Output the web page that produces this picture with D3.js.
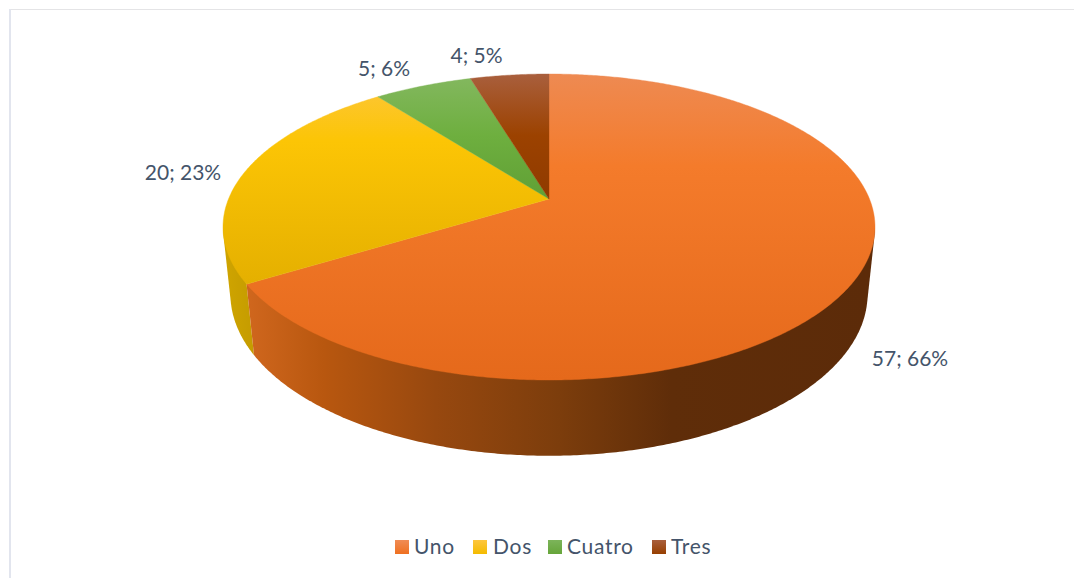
<!DOCTYPE html>
<html><head><meta charset="utf-8">
<script src="https://cdn.jsdelivr.net/npm/d3@7"></script>
<style>html,body{margin:0;padding:0;background:#fff}svg{display:block}text{font-family:Lato,sans-serif;fill:#44546a}</style>
</head><body><div id="c"></div>
<script>
const categories = ["Uno","Dos","Cuatro","Tres"];
const values = [57,20,5,4];
const percents = [66,23,6,5];
const topStops = [
 [["0","#ee8a52"],["0.3","#f47b2b"],["1","#e5691b"]],
 [["0","#fdc640"],["0.22","#fcc505"],["0.7","#e4af00"]],
 [["0","#84b860"],["0.2","#6eaf3f"],["0.41","#60a035"]],
 [["0","#a95f3d"],["0.2","#9c4200"],["0.41","#8f3a00"]]
];
const swatchStops = [
 [["0","#f08c55"],["1","#ef7020"]],
 [["0","#fdc63f"],["1","#f4bb00"]],
 [["0","#7cb45a"],["1","#66a53a"]],
 [["0","#a95f3d"],["1","#973f00"]]
];
const W=1074,H=578,cx=549,R=320.5;
const k=0.183,a=-111.46,b=199,depthW=0.0226,depthY=72.2;

const svg=d3.select("#c").append("svg").attr("width",W).attr("height",H);
const defs=svg.append("defs");
function grad(id,stops,x1,y1,x2,y2,user){
  const g=defs.append("linearGradient").attr("id",id).attr("x1",x1).attr("y1",y1).attr("x2",x2).attr("y2",y2);
  if(user) g.attr("gradientUnits","userSpaceOnUse");
  stops.forEach(s=>g.append("stop").attr("offset",s[0]).attr("stop-color",s[1]));
}
topStops.forEach((s,i)=>grad("t"+i,s,0,74,0,380,true));
swatchStops.forEach((s,i)=>grad("s"+i,s,0,0,0,1,false));
grad("wallUno",[["0","#cf661d"],["0.12","#b8570f"],["0.3","#97480f"],["0.5","#7c3d0c"],["0.68","#5f2d09"],["1","#5c2b09"]],250,0,870,0,true);
grad("wallDos",[["0","#d0a500"],["1","#c49b00"]],222,0,256,0,true);

// frame lines
svg.append("rect").attr("x",9).attr("y",9).attr("width",W-9).attr("height",1).attr("fill","#e4e4e6");
svg.append("rect").attr("x",9).attr("y",9).attr("width",2).attr("height",H-9).attr("fill","#e2e5ee");

const pie=d3.pie().sort(null).value(d=>d)(values);
// perspective projection of the pie disc; angle runs clockwise from the top
function topPt(t){const X=Math.sin(t),Y=Math.cos(t),w=1+k*Y;return [cx+R*X/w,(a*Y+b)/w];}
function botPt(t){const X=Math.sin(t),Y=Math.cos(t),w=1+k*Y+depthW;return [cx+R*X/w,(a*Y+b+depthY)/w];}
const line=d3.line();
const centre=[cx,b];
const step=Math.PI/360;
function angles(t0,t1){const n=Math.max(1,Math.ceil((t1-t0)/step));return d3.range(n+1).map(i=>t0+(t1-t0)*i/n);}
function arcAngles(d){return angles(d.startAngle,d.endAngle);}

// side walls: only the front part of the rim, between the two tangent angles
const visStart=Math.acos(-k), visEnd=2*Math.PI-visStart;
const wallG=svg.append("g");
[[1,"url(#wallDos)"],[0,"url(#wallUno)"]].forEach(([i,fill])=>{
  const t0=Math.max(pie[i].startAngle,visStart), t1=Math.min(pie[i].endAngle,visEnd);
  const ang=angles(t0,t1);
  const hull=d3.polygonHull(ang.map(topPt).concat(ang.map(botPt)));
  wallG.append("path").attr("d",line(hull)+"Z").attr("fill",fill);
});

// top surface
svg.append("g").selectAll("path").data(pie).join("path")
  .attr("d",d=>line([centre,...arcAngles(d).map(topPt)])+"Z")
  .attr("fill",(d,i)=>`url(#t${i})`)
  .attr("stroke",(d,i)=>`url(#t${i})`).attr("stroke-width",0.4);

// data labels
const labelAnchors=[[910,366],[183,180],[384,76],[476.5,63]];
svg.append("g").selectAll("text").data(values).join("text")
  .attr("x",(d,i)=>labelAnchors[i][0]).attr("y",(d,i)=>labelAnchors[i][1])
  .attr("text-anchor","middle").attr("font-size",21)
  .text((d,i)=>`${d}; ${percents[i]}%`);

// legend
const swatchX=[395,473,548,652], legendTextX=[414,493,567,671];
const lg=svg.append("g").selectAll("g").data(categories).join("g");
lg.append("rect").attr("x",(d,i)=>swatchX[i]).attr("y",540).attr("width",14).attr("height",14).attr("fill",(d,i)=>`url(#s${i})`);
lg.append("text").attr("x",(d,i)=>legendTextX[i]).attr("y",554).attr("font-size",21).attr("letter-spacing",0.7).text(d=>d);
</script></body></html>
